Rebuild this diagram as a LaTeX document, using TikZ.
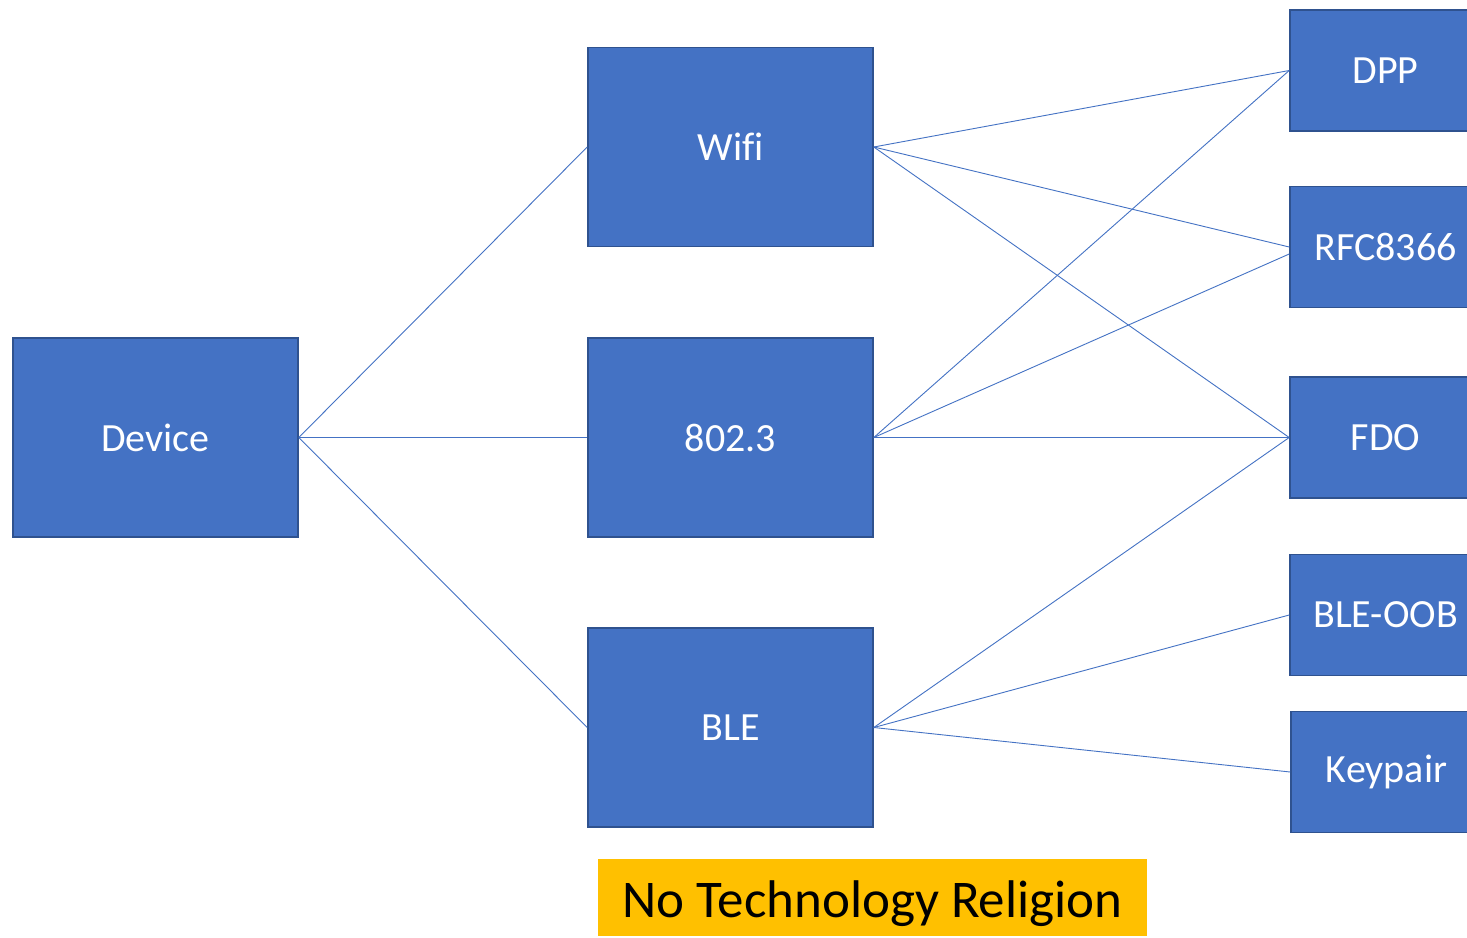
\documentclass[tikz,border=0pt]{standalone}
\usepackage{fontspec}
\setmainfont[Ligatures={NoCommon}]{Carlito}
\definecolor{boxfill}{HTML}{4472C4}
\definecolor{boxline}{HTML}{2F528F}
\definecolor{lbl}{HTML}{FFC000}
\begin{document}
\begin{tikzpicture}[x=1pt,y=-1pt,
  box/.style={rectangle, fill=boxfill, draw=boxline, line width=1.6pt, text=white, font=\fontsize{40}{40}\selectfont, minimum width=285pt, minimum height=199pt, inner sep=0pt},
  rbox/.style={box, minimum width=191pt, minimum height=121pt},
  link/.style={draw=boxfill, line width=0.9pt}]
\clip (0,0) rectangle (1467,937);
\fill[white] (0,0) rectangle (1467,937);
\node[box] (dev) at (155.5,437.5) {Device};
\node[box] (wifi) at (730.5,147) {Wif\kern0pt i};
\node[box] (eth) at (730.5,437.5) {802.3};
\node[box] (ble) at (730.5,727.5) {BLE};
\node[rbox] (dpp) at (1385.5,70.5) {DPP};
\node[rbox] (rfc) at (1385.5,247) {RFC8366};
\node[rbox] (fdo) at (1385.5,437.5) {FDO};
\node[rbox] (oob) at (1385.5,615) {BLE-OOB};
\node[rbox] (key) at (1386.5,772) {Keypair};
\node[rectangle, fill=lbl, minimum width=549pt, minimum height=77pt, inner sep=0pt, text height=39pt, text depth=0pt, font=\fontsize{53}{53}\selectfont] (rel) at (872.5,897.5) {No Technology Religion};
\draw[link] (dev.east) -- (wifi.west);
\draw[link] (dev.east) -- (eth.west);
\draw[link] (dev.east) -- (ble.west);
\draw[link] (wifi.east) -- (dpp.west);
\draw[link] (wifi.east) -- (rfc.west);
\draw[link] (wifi.east) -- (fdo.west);
\draw[link] (eth.east) -- (dpp.west);
\draw[link] (eth.east) -- ([yshift=-7pt]rfc.west);
\draw[link] (eth.east) -- (fdo.west);
\draw[link] (ble.east) -- (fdo.west);
\draw[link] (ble.east) -- (oob.west);
\draw[link] (ble.east) -- (key.west);
\end{tikzpicture}
\end{document}
